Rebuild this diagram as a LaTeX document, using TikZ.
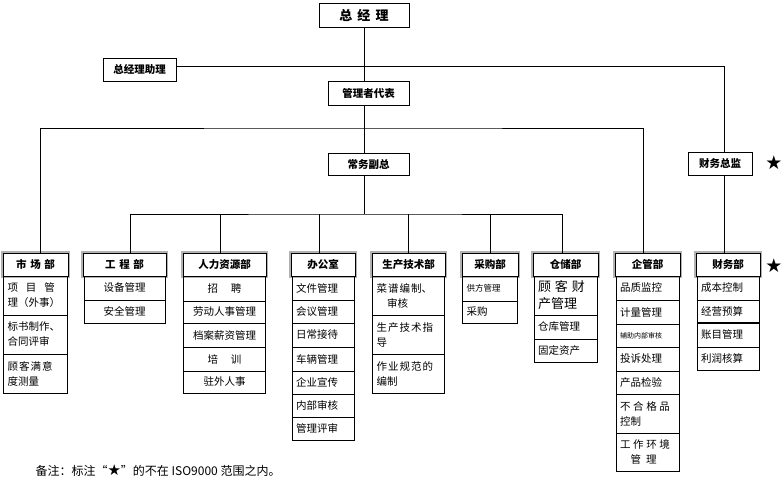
\documentclass[tikz,border=0pt]{standalone}
\usepackage{fontspec}
\setmainfont{Noto Sans CJK SC}
\newfontfamily\symfont{DejaVu Sans}
\usetikzlibrary{positioning}
\tikzset{
  box/.style={draw, line width=0.8pt, inner sep=0pt, outer sep=0pt, anchor=north west, font=\bfseries\fontsize{10.5}{12}\selectfont},
  head/.style={draw, line width=1pt, fill=white, preaction={draw=gray!60, line width=3.4pt}, inner sep=0pt, outer sep=0pt, anchor=north west, minimum height=23pt, font=\bfseries\fontsize{10.5}{12}\selectfont},
  item/.style={draw, line width=0.6pt, inner xsep=4pt, inner ysep=0pt, outer sep=0pt, align=left, font=\fontsize{10.5}{15}\selectfont},
  link/.style={line width=0.8pt},
  star/.style={inner sep=0pt, font=\symfont\fontsize{19}{19}\selectfont},
}
\begin{document}
\begin{tikzpicture}[x=1pt,y=-1pt]
\useasboundingbox (0,0) rectangle (784,484);
% top of the chart
\node[box, minimum width=90pt, minimum height=24pt, font=\bfseries\fontsize{13}{15}\selectfont] (zjl) at (319,3){总\hspace{0.4em}经\hspace{0.4em}理};
\node[box, minimum width=73pt, minimum height=23pt] (zlzl) at (103,58){总经理助理};
\node[box, minimum width=81pt, minimum height=24pt] (glzdb) at (328,81){管理者代表};
\node[box, minimum width=81pt, minimum height=22pt] (cwfz) at (328,153){常务副总};
\node[box, minimum width=64pt, minimum height=23pt] (cwzj) at (688,152){财务总监};
\node[star] (star1) at (774,163){★};
\coordinate (busa) at (364,128);
\coordinate (busb) at (364,214);
% 市场部
\node[head, minimum width=65pt] (scb) at (3,253){市\hspace{0.35em}场\hspace{0.35em}部};
\node[item, text width=56pt, minimum height=39pt, below=0pt of scb] (sc1){项\hspace{0.75em}目\hspace{0.75em}管\\理（外事）};
\node[item, text width=56pt, minimum height=39pt, below=0pt of sc1] (sc2){标书制作、\\合同评审};
\node[item, text width=56pt, minimum height=39pt, below=0pt of sc2] (sc3){顾\hspace{0.1em}客\hspace{0.1em}满\hspace{0.1em}意\\度测量};
% 工程部
\node[head, minimum width=83pt] (gcb) at (83,253){工\hspace{0.35em}程\hspace{0.35em}部};
\node[item, text width=73pt, align=center, minimum height=24pt, below=0pt of gcb] (gc1){设备管理};
\node[item, text width=73pt, align=center, minimum height=23pt, below=0pt of gc1] (gc2){安全管理};
% 人力资源部
\node[head, minimum width=83pt] (rlb) at (183,253){人力资源部};
\node[item, text width=74pt, align=center, minimum height=25pt, below=0pt of rlb] (rl1){招\hspace{1.2em}聘};
\node[item, text width=74pt, align=center, minimum height=22pt, below=0pt of rl1] (rl2){劳动人事管理};
\node[item, text width=74pt, align=center, minimum height=24pt, below=0pt of rl2] (rl3){档案薪资管理};
\node[item, text width=74pt, align=center, minimum height=24pt, below=0pt of rl3] (rl4){培\hspace{1.2em}训};
\node[item, text width=74pt, align=center, minimum height=22pt, below=0pt of rl4] (rl5){驻外人事};
% 办公室
\node[head, minimum width=64pt] (bgb) at (291,253){办公室};
\node[item, text width=54pt, minimum height=24pt, below=0pt of bgb] (bg1){文件管理};
\node[item, text width=54pt, minimum height=23pt, below=0pt of bg1] (bg2){会议管理};
\node[item, text width=54pt, minimum height=24pt, below=0pt of bg2] (bg3){日常接待};
\node[item, text width=54pt, minimum height=24pt, below=0pt of bg3] (bg4){车辆管理};
\node[item, text width=54pt, minimum height=23pt, below=0pt of bg4] (bg5){企业宣传};
\node[item, text width=54pt, minimum height=23pt, below=0pt of bg5] (bg6){内部审核};
\node[item, text width=54pt, minimum height=23pt, below=0pt of bg6] (bg7){管理评审};
% 生产技术部
\node[head, minimum width=73pt] (sjb) at (372,253){生产技术部};
\node[item, text width=64pt, minimum height=39pt, below=0pt of sjb] (sj1){菜\hspace{0.1em}谱\hspace{0.1em}编\hspace{0.1em}制、\\\hspace*{1em}审核};
\node[item, text width=64pt, minimum height=39pt, below=0pt of sj1] (sj2){生\hspace{0.1em}产\hspace{0.1em}技\hspace{0.1em}术\hspace{0.1em}指\\导};
\node[item, text width=64pt, minimum height=39pt, below=0pt of sj2] (sj3){作\hspace{0.1em}业\hspace{0.1em}规\hspace{0.1em}范\hspace{0.1em}的\\编制};
% 采购部
\node[head, minimum width=56pt] (cgb) at (462,253){采购部};
\node[item, text width=47pt, minimum height=25pt, below=0pt of cgb, font=\fontsize{8.5}{10}\selectfont] (cg1){供方管理};
\node[item, text width=47pt, minimum height=22pt, below=0pt of cg1] (cg2){采购};
% 仓储部
\node[head, minimum width=65pt] (ccb) at (533,253){仓储部};
\node[item, text width=55pt, minimum height=39pt, below=0pt of ccb, font=\fontsize{13}{17}\selectfont] (cc1){顾\hspace{0.3em}客\hspace{0.3em}财\\产管理};
\node[item, text width=55pt, minimum height=24pt, below=0pt of cc1] (cc2){仓库管理};
\node[item, text width=55pt, minimum height=23pt, below=0pt of cc2] (cc3){固定资产};
% 企管部
\node[head, minimum width=65pt] (qgb) at (615,253){企管部};
\node[item, text width=55pt, minimum height=24pt, below=0pt of qgb] (qg1){品质监控};
\node[item, text width=55pt, minimum height=24pt, below=0pt of qg1] (qg2){计量管理};
\node[item, text width=55pt, minimum height=23pt, below=0pt of qg2, font=\fontsize{7}{8}\selectfont] (qg3){辅助内部审核};
\node[item, text width=55pt, minimum height=24pt, below=0pt of qg3] (qg4){投诉处理};
\node[item, text width=55pt, minimum height=23pt, below=0pt of qg4] (qg5){产品检验};
\node[item, text width=55pt, minimum height=39pt, below=0pt of qg5] (qg6){不\hspace{0.25em}合\hspace{0.25em}格\hspace{0.25em}品\\控制};
\node[item, text width=55pt, minimum height=38pt, below=0pt of qg6] (qg7){工\hspace{0.25em}作\hspace{0.25em}环\hspace{0.25em}境\\\hspace*{1em}管\hspace{0.5em}理};
% 财务部
\node[head, minimum width=64pt] (cwb) at (696,253){财务部};
\node[item, text width=54pt, minimum height=24pt, below=0pt of cwb] (cw1){成本控制};
\node[item, text width=54pt, minimum height=23pt, below=0pt of cw1] (cw2){经营预算};
\node[item, text width=54pt, minimum height=24pt, below=0pt of cw2] (cw3){账目管理};
\node[item, text width=54pt, minimum height=23pt, below=0pt of cw3] (cw4){利润核算};
\draw[line width=1.6pt] (cw3.north west) -- (cw3.north east);
\node[star] (star2) at (774,266){★};
% connectors
\draw[link] (busa |- zjl.south) -- (busa |- glzdb.north);
\draw[link] ([yshift=3.5pt]zlzl.east) -| ([xshift=4pt]cwzj.north);
\draw[link] (busa |- glzdb.south) -- (busa |- cwfz.north);
\draw[link] ([xshift=5pt]scb.north) |- (busa) -| ([xshift=-4pt]qgb.north);
\draw[link] (busb |- cwfz.south) -- (busb);
\draw[link] ([xshift=6pt]gcb.north) |- (busb) -| ([xshift=-3pt]ccb.north);
\draw[link] ([xshift=-4pt]rlb.north) -- ([xshift=-4pt]rlb.north |- busb);
\draw[link] ([xshift=-4pt]bgb.north) -- ([xshift=-4pt]bgb.north |- busb);
\draw[link] (sjb.north) -- (sjb.north |- busb);
\draw[link] (cgb.north) -- (cgb.north |- busb);
\draw[link] ([xshift=4pt]cwzj.south) -- ([xshift=4pt]cwzj.south |- cwb.north);
% note
\node[anchor=west, font=\fontsize{12}{14}\selectfont] (note) at (32,471){备注：标注“{\symfont\fontsize{15}{15}\selectfont ★}”的不在 ISO9000 范围之内。};
\end{tikzpicture}
\end{document}
